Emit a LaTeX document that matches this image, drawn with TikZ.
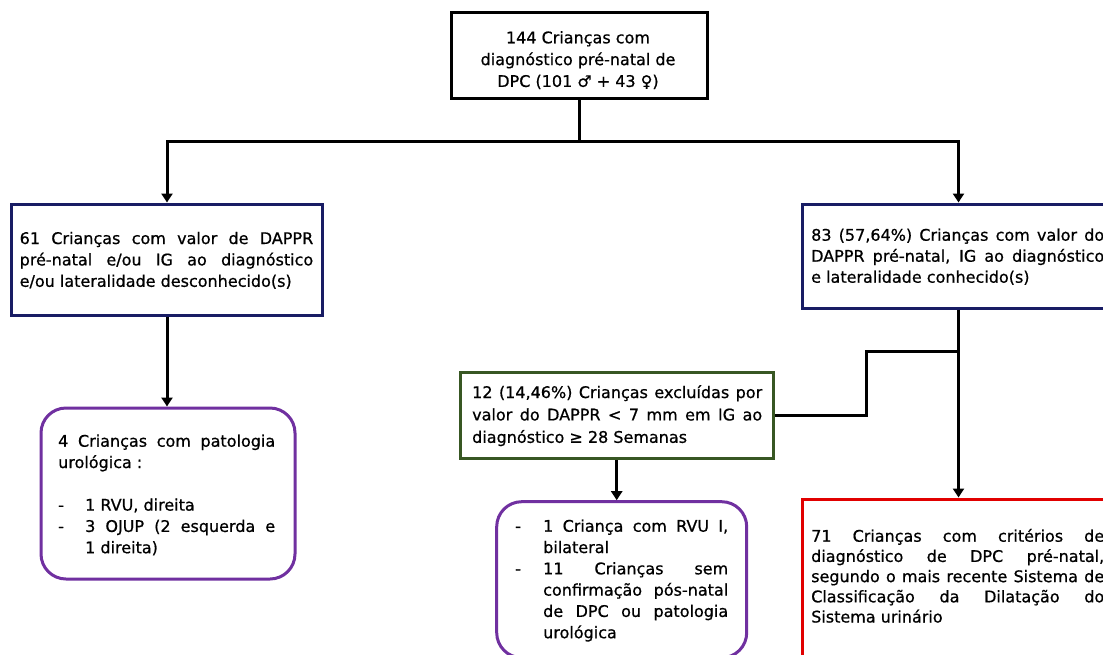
\documentclass[tikz,border=0pt]{standalone}
\usepackage{fontspec}
\setmainfont{DejaVu Sans}[FakeBold=0.7]
\usetikzlibrary{arrows.meta,calc}
\newcommand{\jl}[2]{\makebox[#1][s]{#2}}
\newcommand{\dsh}[1]{\makebox[#1][l]{-}}
\definecolor{navyb}{RGB}{24,28,100}
\definecolor{greenb}{RGB}{56,87,35}
\definecolor{purpb}{RGB}{112,48,160}
\definecolor{redb}{RGB}{225,0,0}
\begin{document}
\begin{tikzpicture}[x=1pt,y=-1pt,
  boxst/.style={draw, line width=3pt, rectangle, inner sep=0pt},
  roundbox/.style={draw=purpb, line width=3pt, rectangle, rounded corners=25pt, inner sep=0pt},
  txt/.style={inner sep=0pt, align=left, anchor=base west},
  conn/.style={line width=3pt, draw=black},
  arr/.style={conn, -{Triangle[width=11pt,length=9pt]}}
]
\useasboundingbox (0,0) rectangle (1103,654);
\clip (0,0) rectangle (1103,654);
\fill[white] (0,0) rectangle (1103,654);

% boxes
\node[boxst, draw=black, minimum width=256pt, minimum height=86pt] (top) at (579,55.5) {};
\node[boxst, draw=navyb, minimum width=311pt, minimum height=111pt] (left) at (167,259.5) {};
\node[boxst, draw=navyb, minimum width=313pt, minimum height=104pt] (right) at (958.5,256) {};
\node[boxst, draw=greenb, minimum width=313pt, minimum height=86pt] (green) at (616.7,415.5) {};
\node[roundbox, minimum width=254pt, minimum height=171pt] (pa) at (168,493.5) {};
\node[roundbox, minimum width=250pt, minimum height=156pt] (pb) at (621.7,579.7) {};
\node[boxst, draw=redb, minimum width=313pt, minimum height=170pt] (red) at (958.5,584) {};

% texts (anchor = baseline of the last line)
\node[inner sep=0pt, align=center, anchor=base, font=\fontsize{16}{21.8}\selectfont] (ttop) at (578,86.9)
  {144 Crianças com\\diagnóstico pré-natal de\\DPC (101 ♂ + 43 ♀)};
\node[txt, font=\fontsize{16}{21.4}\selectfont] (tleft) at (19.5,286.8)
  {\jl{293.5pt}{61 Crianças com valor de DAPPR}\\
   \jl{293.5pt}{pré-natal e/ou IG ao diagnóstico}\\
   e/ou lateralidade desconhecido(s)};
\node[txt, font=\fontsize{16}{21}\selectfont] (tright) at (811,282.7)
  {\jl{293pt}{83 (57,64\%) Crianças com valor do}\\
   \jl{293pt}{DAPPR pré-natal, IG ao diagnóstico}\\
   e lateralidade conhecido(s)};
\node[txt, font=\fontsize{16}{22.4}\selectfont] (tgreen) at (472,442.8)
  {\jl{290pt}{12 (14,46\%) Crianças excluídas por}\\
   \jl{290pt}{valor do DAPPR < 7 mm em IG ao}\\
   diagnóstico ≥ 28 Semanas};
\node[txt, font=\fontsize{16}{21.3}\selectfont] (tpa) at (58,553.2)
  {\jl{217pt}{4 Crianças com patologia}\\
   urológica :\\
   \mbox{}\\
   \dsh{27pt}1 RVU, direita\\
   \dsh{27pt}\jl{190pt}{3 OJUP (2 esquerda e}\\
   \hspace*{27pt}1 direita)};
\node[txt, font=\fontsize{16}{21.3}\selectfont] (tpb) at (515,638.2)
  {\dsh{28pt}\jl{185pt}{1 Criança com RVU I,}\\
   \hspace*{28pt}bilateral\\
   \dsh{28pt}\jl{185pt}{11 Crianças sem}\\
   \hspace*{28pt}\jl{185pt}{confirmação pós-natal}\\
   \hspace*{28pt}\jl{185pt}{de DPC ou patologia}\\
   \hspace*{28pt}urológica};
\node[txt, font=\fontsize{16}{20.2}\selectfont] (tred) at (811,622.5)
  {\jl{293pt}{71 Crianças com critérios de}\\
   \jl{293pt}{diagnóstico de DPC pré-natal,}\\
   \jl{293pt}{segundo o mais recente Sistema de}\\
   \jl{293pt}{Classificação da Dilatação do}\\
   Sistema urinário};

% connectors
\coordinate (j1) at ($(top.south)+(0,41.5)$);
\draw[conn] (top.south) -- (j1);
\draw[arr] (j1) -| (left.north);
\draw[arr] (j1) -| (right.north);
\draw[arr] (left.south) -- (left.south |- pa.north);
\draw[arr] (right.south) -- (right.south |- red.north);
\coordinate (j2) at ($(right.south)+(0,42)$);
\coordinate (bend) at (866,383);
\draw[conn, line join=miter] (j2) -| (bend) |- (green.east);
\draw[arr] (green.south) -- (green.south |- pb.north);
\end{tikzpicture}
\end{document}
